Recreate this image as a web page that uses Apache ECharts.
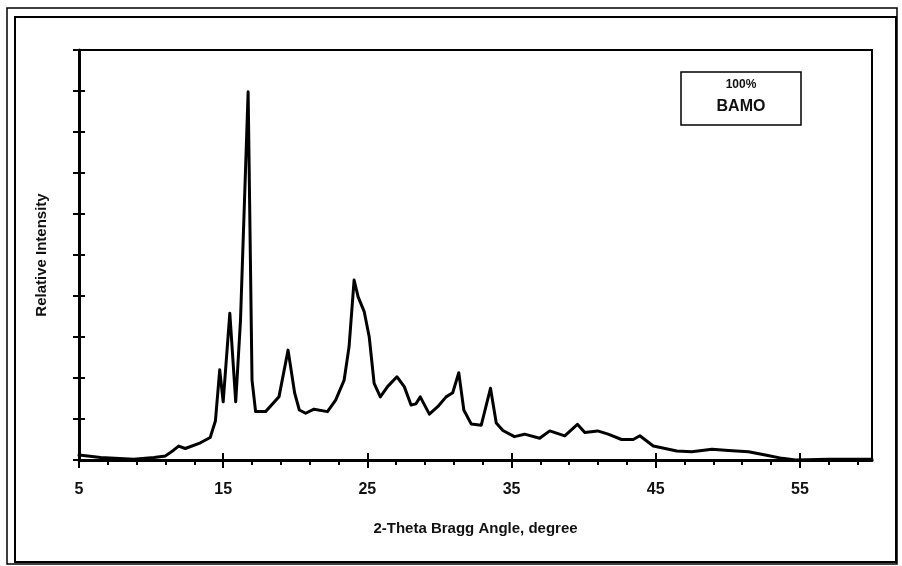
<!DOCTYPE html>
<html><head><meta charset="utf-8">
<script src="https://cdn.jsdelivr.net/npm/echarts@6/dist/echarts.min.js"></script>
<style>html,body{margin:0;padding:0;background:#fff}#c{width:902px;height:566px}</style>
</head><body><div id="c"></div>
<script>
const angle = [5,6.5,8.8,10.2,11,11.56,11.91,12.37,13.42,14.1,14.46,14.76,15.0,15.46,15.87,16.2,16.73,17.0,17.25,17.94,18.87,19.5,19.96,20.28,20.72,21.3,22.23,22.8,23.39,23.73,24.08,24.36,24.78,25.13,25.47,25.9,26.4,27.05,27.56,28.03,28.37,28.67,29.3,29.88,30.46,30.92,31.34,31.69,32.2,32.9,33.54,33.94,34.4,35.2,35.9,36.95,37.65,38.69,39.57,40.08,40.97,41.7,42.63,43.44,43.9,44.83,45.65,46.46,47.5,48.9,50.05,51.44,52.6,53.77,54.7,57,60];
const intensity = [0.12,0.06,0.02,0.06,0.1,0.24,0.34,0.28,0.42,0.55,0.95,2.2,1.42,3.58,1.42,3.4,8.98,1.95,1.18,1.18,1.54,2.68,1.63,1.22,1.14,1.24,1.18,1.46,1.95,2.76,4.39,3.98,3.62,3.0,1.87,1.54,1.79,2.03,1.79,1.34,1.37,1.54,1.12,1.3,1.54,1.64,2.13,1.22,0.88,0.85,1.75,0.9,0.72,0.57,0.63,0.53,0.71,0.59,0.87,0.67,0.71,0.63,0.5,0.5,0.59,0.34,0.28,0.22,0.2,0.26,0.23,0.2,0.12,0.04,0,0.02,0.02];
const xLabels = [5,15,25,35,45,55];
const xMinorTicks = [5,7,9,11,13,15,17,19,21,23,25,27,29,31,33,35,37,39,41,43,45,47,49,51,53,55,57,59];
const legendLines = ['100%','BAMO'];

const chart = echarts.init(document.getElementById('c'));
const font = 'Liberation Sans, Arial, sans-serif';
const pts = angle.map((a,i)=>[a,intensity[i]]);
chart.setOption({
  animation:false,
  grid:{left:79,top:50,right:30,bottom:106,show:true,borderColor:'#000',borderWidth:2},
  xAxis:[
    {type:'value',min:5,max:60,
     name:'2-Theta Bragg Angle, degree',nameLocation:'middle',nameGap:61,
     nameTextStyle:{fontFamily:font,fontWeight:'bold',fontSize:15,color:'#111'},
     axisLine:{lineStyle:{color:'#000',width:3}},
     axisTick:{customValues:xLabels,length:8,lineStyle:{color:'#000',width:2}},
     axisLabel:{customValues:xLabels,margin:22,fontFamily:font,fontWeight:'bold',fontSize:16,color:'#111'},
     splitLine:{show:false}},
    {type:'value',min:5,max:60,position:'bottom',gridIndex:0,
     axisLine:{show:false},
     axisTick:{customValues:xMinorTicks,length:5,lineStyle:{color:'#000',width:2}},
     axisLabel:{show:false},splitLine:{show:false}},
    {type:'value',min:5,max:60,position:'bottom',gridIndex:0,
     axisLine:{show:false},
     axisTick:{customValues:xLabels,inside:true,length:7,lineStyle:{color:'#000',width:2}},
     axisLabel:{show:false},splitLine:{show:false}}
  ],
  yAxis:[
    {type:'value',min:0,max:10,interval:1,
     name:'Relative Intensity',nameLocation:'middle',nameGap:30,
     nameTextStyle:{fontFamily:font,fontWeight:'bold',fontSize:15,color:'#111'},
     axisLine:{show:true,lineStyle:{color:'#000',width:3}},
     axisTick:{show:true,length:6,lineStyle:{color:'#000',width:2}},
     axisLabel:{show:false},splitLine:{show:false}},
    {type:'value',min:0,max:10,interval:1,position:'left',
     axisLine:{show:false},
     axisTick:{show:true,inside:true,length:6,lineStyle:{color:'#000',width:2}},
     axisLabel:{show:false},splitLine:{show:false}}
  ],
  series:[{type:'line',data:pts,showSymbol:false,smooth:false,
    lineStyle:{color:'#000',width:3,join:'round',cap:'round'},z:3}],
  graphic:[
    {type:'rect',shape:{x:7,y:8,width:890,height:556},style:{fill:'none',stroke:'#000',lineWidth:1.5},silent:true},
    {type:'rect',shape:{x:15,y:17,width:881,height:545},style:{fill:'none',stroke:'#000',lineWidth:2},silent:true},
    {type:'rect',shape:{x:681,y:72,width:120,height:53},style:{fill:'#fff',stroke:'#000',lineWidth:1.5},z:10},
    {type:'text',x:741,y:85,style:{text:legendLines[0],fontFamily:font,fontWeight:'bold',fontSize:12,fill:'#111',align:'center',verticalAlign:'middle'},z:11},
    {type:'text',x:741,y:107,style:{text:legendLines[1],fontFamily:font,fontWeight:'bold',fontSize:16,fill:'#111',align:'center',verticalAlign:'middle'},z:11}
  ]
});
</script></body></html>
